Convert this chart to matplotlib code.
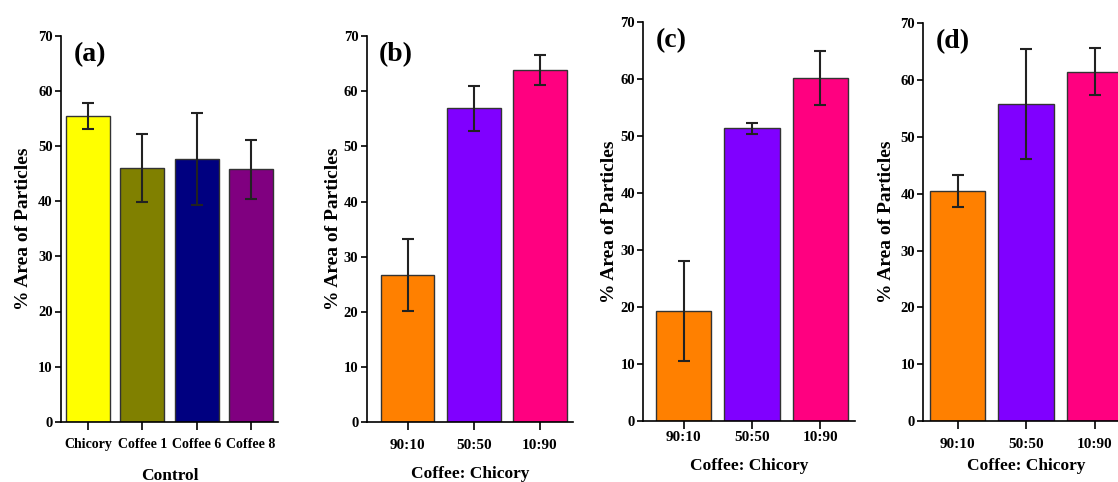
import matplotlib
matplotlib.use("Agg")
import matplotlib.pyplot as plt

plt.rcParams['font.family'] = ['Liberation Serif', 'DejaVu Serif']
plt.rcParams['font.weight'] = 'bold'

# panel (a): controls
control_names = ["Chicory", "Coffee 1", "Coffee 6", "Coffee 8"]
control_means = [55.5, 46.0, 47.7, 45.8]
control_err = [2.4, 6.2, 8.4, 5.3]
control_colors = ["#FFFF00", "#808000", "#000080", "#800080"]

# panels (b)-(d): coffee:chicory blends
blend_names = ["90:10", "50:50", "10:90"]
blend_colors = ["#FF8000", "#8000FF", "#FF0080"]
b_means = [26.7, 56.9, 63.8]
b_err = [6.6, 4.1, 2.7]
c_means = [19.3, 51.3, 60.1]
c_err = [8.7, 1.0, 4.7]
d_means = [40.5, 55.8, 61.5]
d_err = [2.8, 9.7, 4.2]

W, H = 1118, 482
fig = plt.figure(figsize=(W / 100, H / 100), dpi=100)


def px_axes(x0, x1, ytop, ybot):
    return fig.add_axes([x0 / W, 1 - ybot / H, (x1 - x0) / W, (ybot - ytop) / H])


def draw_panel(ax, names, means, errs, colors, label, xlabel, xlim,
               xtick_size=11, xtick_pad=6, xlabel_pad=12, ylabel_pad=4):
    xs = range(len(names))
    ax.bar(xs, means, width=0.81, color=colors, edgecolor="#333333", linewidth=1.0,
           yerr=errs, capsize=4.5, error_kw=dict(ecolor="#222222", elinewidth=1.5, capthick=1.5))
    ax.set_ylim(0, 70)
    ax.set_xlim(*xlim)
    ax.set_yticks(range(0, 71, 10))
    ax.set_xticks(list(xs))
    ax.set_xticklabels(names, fontsize=xtick_size, fontweight="bold")
    for t in ax.get_yticklabels():
        t.set_fontsize(10.5)
        t.set_fontweight("bold")
    ax.spines["top"].set_visible(False)
    ax.spines["right"].set_visible(False)
    ax.spines["left"].set_linewidth(1.2)
    ax.spines["bottom"].set_linewidth(1.2)
    ax.tick_params(axis="x", direction="out", length=6, width=1.2, pad=xtick_pad)
    ax.tick_params(axis="y", direction="out", length=4, width=1.2, pad=2)
    ax.set_ylabel("% Area of Particles", fontsize=14, fontweight="bold", labelpad=ylabel_pad)
    ax.set_xlabel(xlabel, fontsize=12.5, fontweight="bold", labelpad=xlabel_pad)
    ax.text(0.06, 0.985, label, transform=ax.transAxes, fontsize=20, fontweight="bold",
            va="top", ha="left")


ax_a = px_axes(61, 278, 36, 421.7)
draw_panel(ax_a, control_names, control_means, control_err, control_colors,
           "(a)", "Control", (-0.5, 3.5), xtick_size=10)

ax_b = px_axes(366.7, 573, 36, 422.3)
draw_panel(ax_b, blend_names, b_means, b_err, blend_colors,
           "(b)", "Coffee: Chicory", (-0.62, 2.5), xlabel_pad=10, ylabel_pad=1)

ax_c = px_axes(643.3, 855, 21.7, 421)
draw_panel(ax_c, blend_names, c_means, c_err, blend_colors,
           "(c)", "Coffee: Chicory", (-0.59, 2.51), xtick_pad=1, xlabel_pad=10, ylabel_pad=2)

ax_d = px_axes(923.3, 1129, 23.3, 421)
draw_panel(ax_d, blend_names, d_means, d_err, blend_colors,
           "(d)", "Coffee: Chicory", (-0.5, 2.5), xtick_pad=6, xlabel_pad=5)

fig.savefig("out.png", dpi=100)
